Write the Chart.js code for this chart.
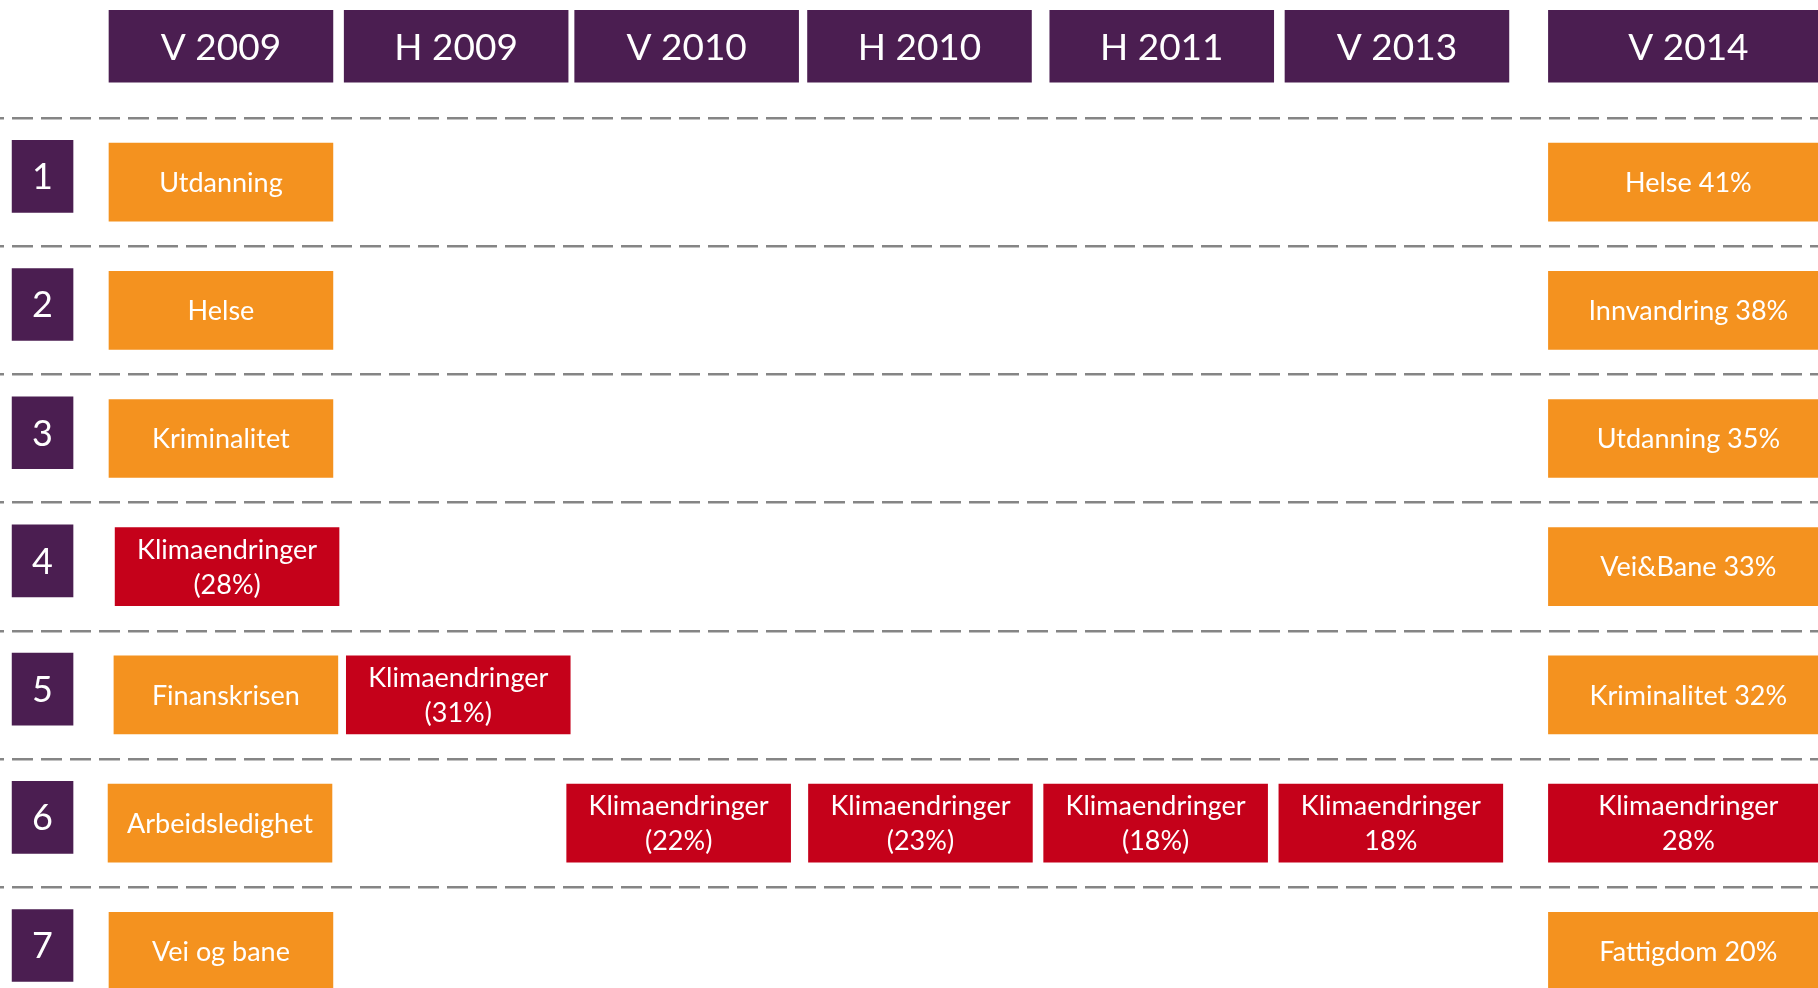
<!DOCTYPE html>
<html lang="no">
<head>
<meta charset="utf-8">
<title>Viktigste saker</title>
<script src="https://cdn.jsdelivr.net/npm/chart.js@4.4.1/dist/chart.umd.min.js"></script>
<style>
  html, body { margin: 0; padding: 0; background: #fff; overflow: hidden; }
  #wrap { position: relative; width: 1818px; height: 988px; }
</style>
</head>
<body>
<div id="wrap"><canvas id="myChart"></canvas></div>
<script>
(function () {
  'use strict'

  // Data
  var periods = ['V 2009', 'H 2009', 'V 2010', 'H 2010', 'H 2011', 'V 2013', 'V 2014'];
  var ranks = [1, 2, 3, 4, 5, 6, 7];
  var topicsV2009 = ['Utdanning', 'Helse', 'Kriminalitet', 'Klimaendringer', 'Finanskrisen', 'Arbeidsledighet', 'Vei og bane'];
  var topicsV2014 = ['Helse', 'Innvandring', 'Utdanning', 'Vei&Bane', 'Kriminalitet', 'Klimaendringer', 'Fattigdom'];
  var sharesV2014 = [41, 38, 35, 33, 32, 28, 20];
  // Klimaendringer per period
  var klimaRank = [4, 5, 6, 6, 6, 6, 6];
  var klimaShare = [28, 31, 22, 23, 18, 18, 28];
  var klimaParens = [true, true, true, true, true, false, false];

  var KLIMA = 'Klimaendringer';
  var purple = '#4b1e51';
  var orange = '#f4921f';
  var red = '#c5011a';

  // Layout (column units on x, rank units on y)
  var colStart = [0, 1, 1.98, 2.97, 4, 5, 6.12];
  var colWidth = [0.952, 0.952, 0.952, 0.952, 0.952, 0.952, 1.19];
  var klimaShift = [0.026, 0.009, -0.034, 0.004, -0.026, -0.026, 0];   // boxes sit a bit off the grid
  var v2009Shift = [0, 0, 0, 0, 0.021, -0.004, 0];
  var rankBox = [-0.412, -0.153];
  var headerRow = -0.06;
  var rankNudge = 0.045;
  var dividers = [0.5, 1.5, 2.5, 3.5, 4.5, 5.5, 6.5];

  var colPitchPx = 235.2, firstColPx = 109;
  var rowPitchPx = 128.2, firstRowPx = 182.1;
  var xMin = -firstColPx / colPitchPx;
  var xMax = xMin + 1818 / colPitchPx;
  var yMin = 1 - firstRowPx / rowPitchPx;
  var yMax = yMin + 988 / rowPitchPx;

  function cell(col, rank, label, shift) {
    var s = colStart[col] + (shift || 0);
    return { x: [s, s + colWidth[col]], y: rank, label: label };
  }
  function klimaLabel(i) {
    var pct = klimaShare[i] + '%';
    return [KLIMA, klimaParens[i] ? '(' + pct + ')' : pct];
  }

  var headerBars = periods.map(function (p, i) {
    return cell(i, headerRow, [p]);
  });
  var rankBars = ranks.map(function (r) {
    return { x: rankBox.slice(), y: r - rankNudge, label: [String(r)] };
  });

  var orangeCells = [];
  var redCells = [];
  topicsV2009.forEach(function (t, r) {
    if (t !== KLIMA) orangeCells.push(cell(0, ranks[r], [t], v2009Shift[r]));
  });
  topicsV2014.forEach(function (t, r) {
    if (t !== KLIMA) orangeCells.push(cell(6, ranks[r], [t + ' ' + sharesV2014[r] + '%']));
  });
  periods.forEach(function (p, i) {
    redCells.push(cell(i, klimaRank[i], klimaLabel(i), klimaShift[i]));
  });

  // white text centred in every box
  var boxLabels = {
    id: 'boxLabels',
    afterDatasetsDraw: function (chart) {
      var c = chart.ctx;
      chart.data.datasets.forEach(function (ds, di) {
        var meta = chart.getDatasetMeta(di);
        var size = ds.labelSize, lh = ds.labelLineHeight, cap = size * 0.72;
        c.save();
        c.fillStyle = '#ffffff';
        c.font = size + 'px Lato';
        c.textAlign = 'center';
        c.textBaseline = 'alphabetic';
        meta.data.forEach(function (bar, i) {
          var p = bar.getProps(['x', 'y', 'base'], true);
          var lines = ds.data[i].label;
          var cx = (p.x + p.base) / 2;
          var first = p.y + cap / 2 - (lines.length - 1) * lh / 2;
          lines.forEach(function (s, k) {
            c.fillText(s, cx, first + k * lh);
          });
        });
        c.restore();
      });
    }
  };

  function boxSet(label, data, color, thickness, size) {
    return {
      label: label,
      data: data,
      backgroundColor: color,
      borderWidth: 0,
      barThickness: thickness,
      grouped: false,
      labelSize: size,
      labelLineHeight: 35
    };
  }

  new Chart(document.getElementById('myChart'), {
    type: 'bar',
    data: {
      datasets: [
        boxSet('Periode', headerBars, purple, 72, 37),
        boxSet('Rangering', rankBars, purple, 72, 36),
        boxSet('Andre saker', orangeCells, orange, 78, 27),
        boxSet(KLIMA, redCells, red, 78, 27)
      ]
    },
    options: {
      indexAxis: 'y',
      responsive: true,
      maintainAspectRatio: false,
      animation: false,
      layout: { padding: 0 },
      plugins: {
        legend: { display: false },
        tooltip: { enabled: false }
      },
      scales: {
        x: { type: 'linear', min: xMin, max: xMax, offset: false, display: false },
        y: {
          type: 'linear',
          reverse: true,
          min: yMin,
          max: yMax,
          offset: false,
          afterBuildTicks: function (axis) {
            axis.ticks = dividers.map(function (v) { return { value: v }; });
          },
          ticks: { display: false },
          grid: { color: '#858585', lineWidth: 2.5, drawTicks: false, offset: false },
          border: { display: false, dash: [21, 8], dashOffset: 17 }
        }
      }
    },
    plugins: [boxLabels]
  });
})()
</script>
</body>
</html>
